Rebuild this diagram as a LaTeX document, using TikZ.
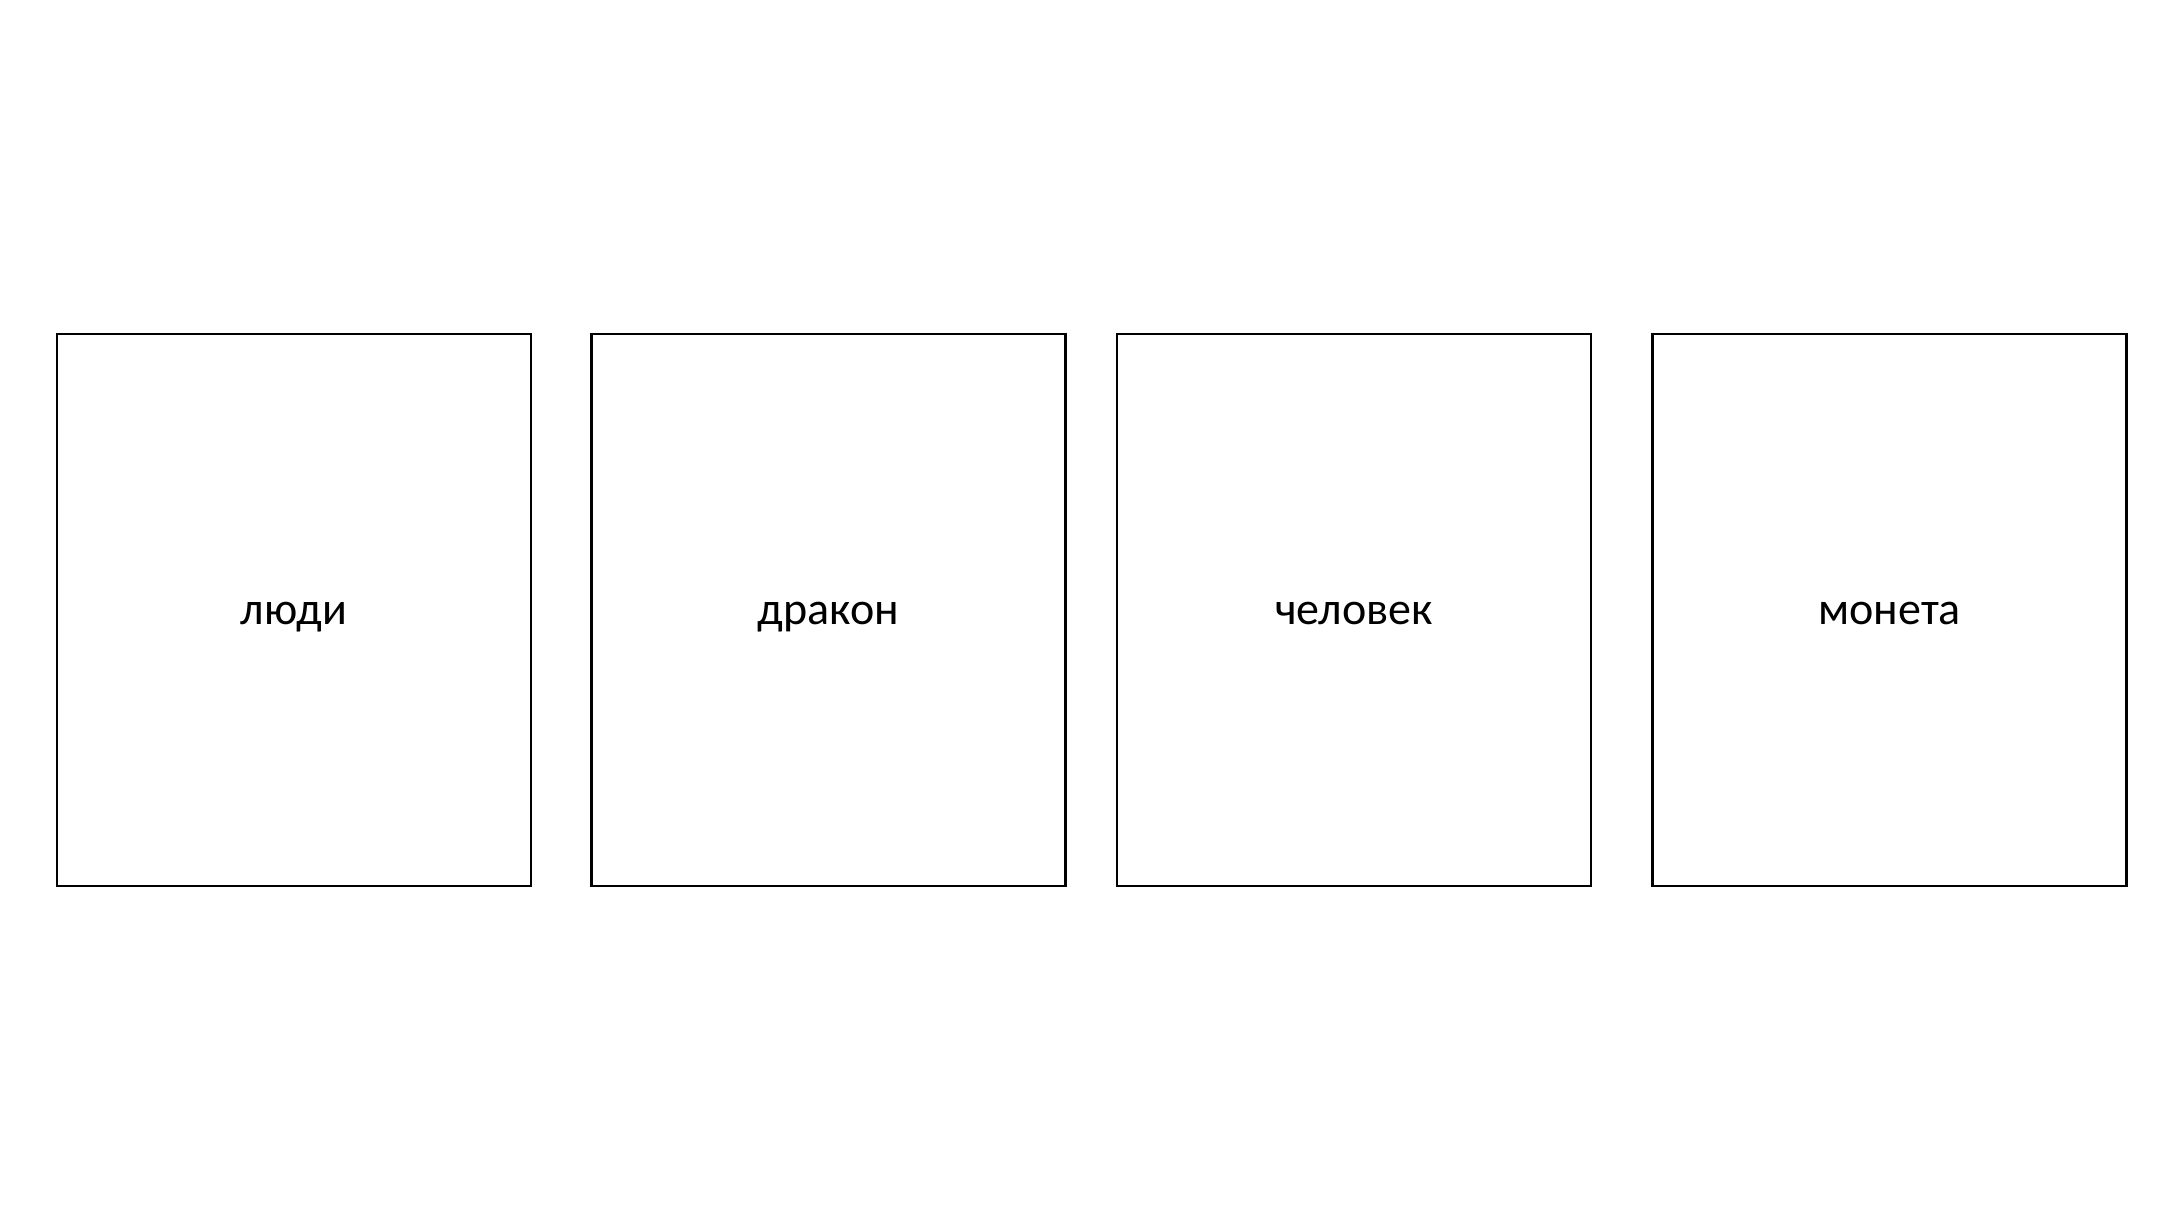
\documentclass[tikz,border=0pt]{standalone}
\usepackage{fontspec}
\setmainfont{Carlito}
\usepackage{tikz}
\usetikzlibrary{positioning}

\begin{document}
\begin{tikzpicture}[card/.style={draw,line width=0.6pt,minimum width=4.74cm,minimum height=5.52cm,text height=10pt,text depth=2pt,font=\fontsize{13.1}{16}\selectfont}]
\useasboundingbox[fill=white](0,0)rectangle(21.84,12.28);
\node[card](people)at(2.94,6.18){люди};
\node[card](dragon)at(8.285,6.18){дракон};
\node[card](human)at(13.54,6.18){человек};
\node[card](coin)at(18.895,6.18){монета};
\end{tikzpicture}
\end{document}
